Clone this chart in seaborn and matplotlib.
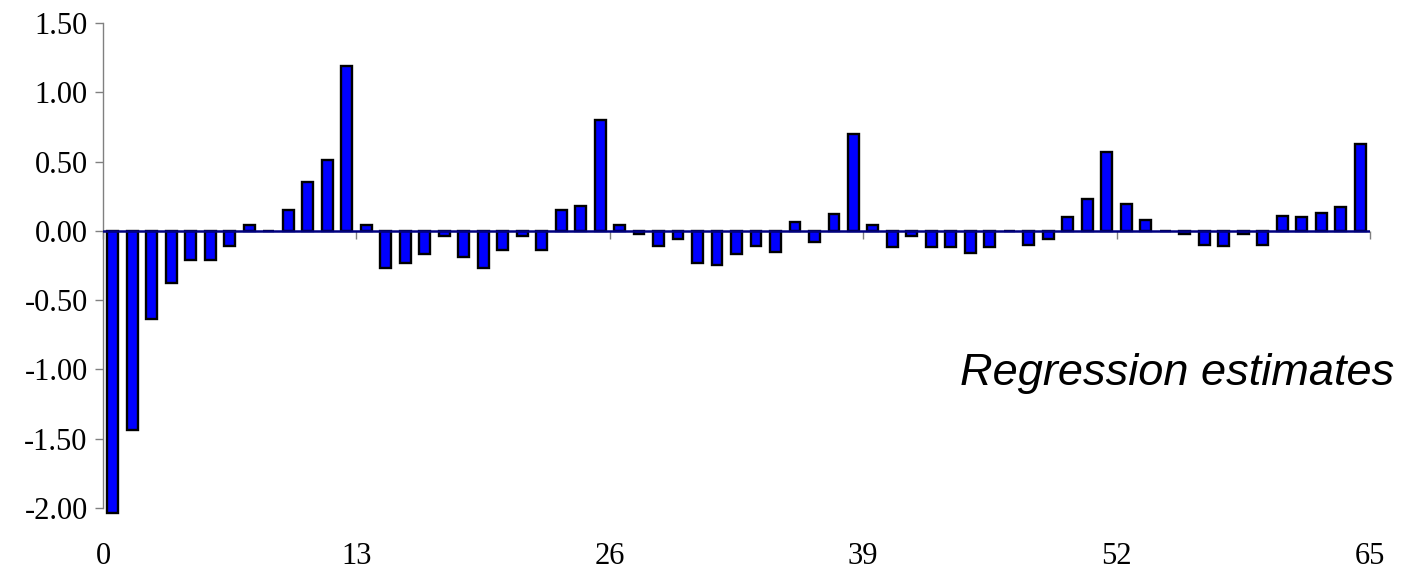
import matplotlib
matplotlib.use("Agg")
import matplotlib.pyplot as plt
import seaborn as sns
import pandas as pd

# ---- data ----
lags = list(range(1, 66))
estimates = [
    -2.04, -1.44, -0.64, -0.38, -0.21, -0.21, -0.11, 0.04, 0.00, 0.15,
    0.35, 0.51, 1.19, 0.04, -0.27, -0.23, -0.17, -0.04, -0.19, -0.27,
    -0.14, -0.04, -0.14, 0.15, 0.18, 0.80, 0.04, -0.02, -0.11, -0.06,
    -0.23, -0.25, -0.17, -0.11, -0.15, 0.06, -0.08, 0.12, 0.70, 0.04,
    -0.12, -0.04, -0.12, -0.12, -0.16, -0.12, 0.00, -0.10, -0.06, 0.10,
    0.23, 0.57, 0.19, 0.08, 0.00, -0.02, -0.10, -0.11, -0.02, -0.10,
    0.11, 0.10, 0.13, 0.17, 0.63,
]
xtick_labels = ["0", "13", "26", "39", "52", "65"]
yticks = [-2.0, -1.5, -1.0, -0.5, 0.0, 0.5, 1.0, 1.5]
annotation = "Regression estimates"

df = pd.DataFrame({"lag": lags, "estimate": estimates})

sns.set_style("white")
plt.rcParams["font.family"] = ["Liberation Serif", "DejaVu Serif"]
plt.rcParams["text.color"] = "black"
plt.rcParams["xtick.color"] = "black"
plt.rcParams["ytick.color"] = "black"
plt.rcParams["xtick.labelcolor"] = "black"
plt.rcParams["ytick.labelcolor"] = "black"

fig = plt.figure(figsize=(14.26, 5.71), dpi=100)
ax = fig.add_axes([103 / 1426, (571 - 514.7) / 571, 1267 / 1426, 491.7 / 571])

sns.barplot(data=df, x="lag", y="estimate", order=lags, color="#0000ff",
            saturation=1, width=0.56, edgecolor="black", linewidth=1.7,
            errorbar=None, ax=ax)

n = len(lags)
ax.set_xlim(-0.5, n - 0.5)
ax.set_ylim(-2.05, 1.5)

# zero line
ax.axhline(0, color="#000080", lw=1.8, zorder=3)

# y axis
ax.set_yticks(yticks)
ax.set_yticklabels([f"{v:.2f}" for v in yticks], fontsize=22, color="black")
ax.spines["left"].set_bounds(-2.0, 1.5)
ax.spines["left"].set_color("#808080")
ax.spines["left"].set_linewidth(1.0)
ax.tick_params(axis="y", direction="out", length=6, width=1.0,
               color="#808080", pad=5, left=True)
for s in ["top", "right"]:
    ax.spines[s].set_visible(False)

# x axis: tick marks on the zero line, labels at the bottom
tick_pos = [i * 13 - 0.5 for i in range(len(xtick_labels))]
ax.spines["bottom"].set_position(("data", 0))
ax.spines["bottom"].set_visible(False)
ax.set_xticks(tick_pos)
ax.set_xticklabels([])
ax.tick_params(axis="x", direction="out", length=6, width=1.0,
               color="#808080", bottom=True)
ax.set_xlabel("")
ax.set_ylabel("")

sec = ax.secondary_xaxis("bottom")
sec.set_xticks(tick_pos)
sec.set_xticklabels(xtick_labels, fontsize=22, color="black")
sec.spines["bottom"].set_visible(False)
sec.tick_params(axis="x", length=0, pad=20)

ax.text(960 / 1426, 1 - 373 / 571, annotation, transform=fig.transFigure,
        fontsize=32.5, style="italic", family=["Liberation Sans", "DejaVu Sans"],
        color="black", ha="left", va="center")

fig.savefig("out.png", dpi=100)
